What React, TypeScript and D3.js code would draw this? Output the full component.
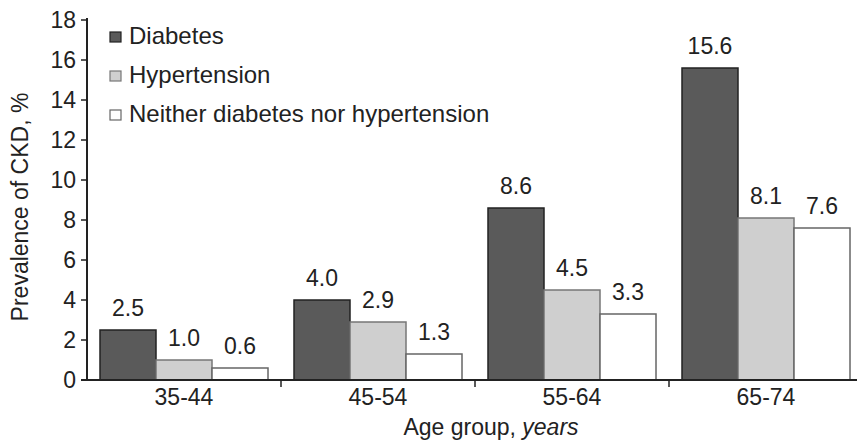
import React from "react";
import * as d3 from "d3";

const categories = ["35-44", "45-54", "55-64", "65-74"];
const seriesNames = ["Diabetes", "Hypertension", "Neither diabetes nor hypertension"];
const diabetes = [2.5, 4.0, 8.6, 15.6];
const hypertension = [1.0, 2.9, 4.5, 8.1];
const neither = [0.6, 1.3, 3.3, 7.6];
const yTicks = [0, 2, 4, 6, 8, 10, 12, 14, 16, 18];

const fills = ["#5a5a5a", "#cfcfcf", "#ffffff"];
const strokes = ["#222", "#777", "#666"];

export default function App() {
  const W = 857, H = 442;
  const left = 87, right = 863, top = 20, bottom = 380;
  const font = "'Liberation Sans', Arial, sans-serif";
  const fs = 23;
  const x = d3.scaleBand<string>().domain(categories).range([left, right]).paddingInner(0).paddingOuter(0);
  const inner = d3.scaleBand<string>().domain(seriesNames).range([13, x.bandwidth() - 13]).padding(0);
  const y = d3.scaleLinear().domain([0, 18]).range([bottom, top]);
  const series = [diabetes, hypertension, neither];

  return (
    <svg width={W} height={H} style={{ position: "absolute", left: 0, top: 0, background: "#fff" }} fontFamily={font}>
      {series.map((vals, si) =>
        vals.map((v, ci) => {
          const bx = x(categories[ci])! + inner(seriesNames[si])!;
          const bw = inner.bandwidth();
          return (
            <g key={`${si}-${ci}`}>
              <rect x={bx} y={y(v)} width={bw} height={y(0) - y(v)} fill={fills[si]} stroke={strokes[si]} strokeWidth={1.5} />
              <text x={bx + bw / 2} y={y(v) - 14} textAnchor="middle" fontSize={fs} fill="#222">{v.toFixed(1)}</text>
            </g>
          );
        })
      )}
      {/* y axis */}
      <line x1={left} x2={left} y1={y(18) - 2} y2={bottom} stroke="#222" strokeWidth={2} />
      {yTicks.map((t) => (
        <g key={t}>
          <line x1={left - 6} x2={left} y1={y(t)} y2={y(t)} stroke="#222" strokeWidth={1.5} />
          <text x={left - 11} y={y(t) + 8} textAnchor="end" fontSize={fs} fill="#222">{t}</text>
        </g>
      ))}
      {/* x axis */}
      <line x1={left - 6} x2={W} y1={bottom} y2={bottom} stroke="#222" strokeWidth={2} />
      {categories.map((c, i) => (
        <g key={c}>
          {i > 0 && <line x1={x(c)!} x2={x(c)!} y1={bottom} y2={bottom + 7} stroke="#222" strokeWidth={1.5} />}
          <text x={x(c)! + x.bandwidth() / 2} y={bottom + 25} textAnchor="middle" fontSize={fs} fill="#222">{c}</text>
        </g>
      ))}
      <text x={491} y={435} textAnchor="middle" fontSize={fs} fill="#222">
        Age group, <tspan fontStyle="italic">years</tspan>
      </text>
      <text transform={`translate(28, 207) rotate(-90)`} textAnchor="middle" fontSize={fs} fill="#222">
        Prevalence of CKD, %
      </text>
      {/* legend */}
      {seriesNames.map((n, i) => (
        <g key={n}>
          <rect x={110} y={32 + i * 39} width={11} height={10} fill={fills[i]} stroke={strokes[i]} strokeWidth={1.2} />
          <text x={129} y={44 + i * 39} fontSize={24} fill="#222">{n}</text>
        </g>
      ))}
    </svg>
  );
}
